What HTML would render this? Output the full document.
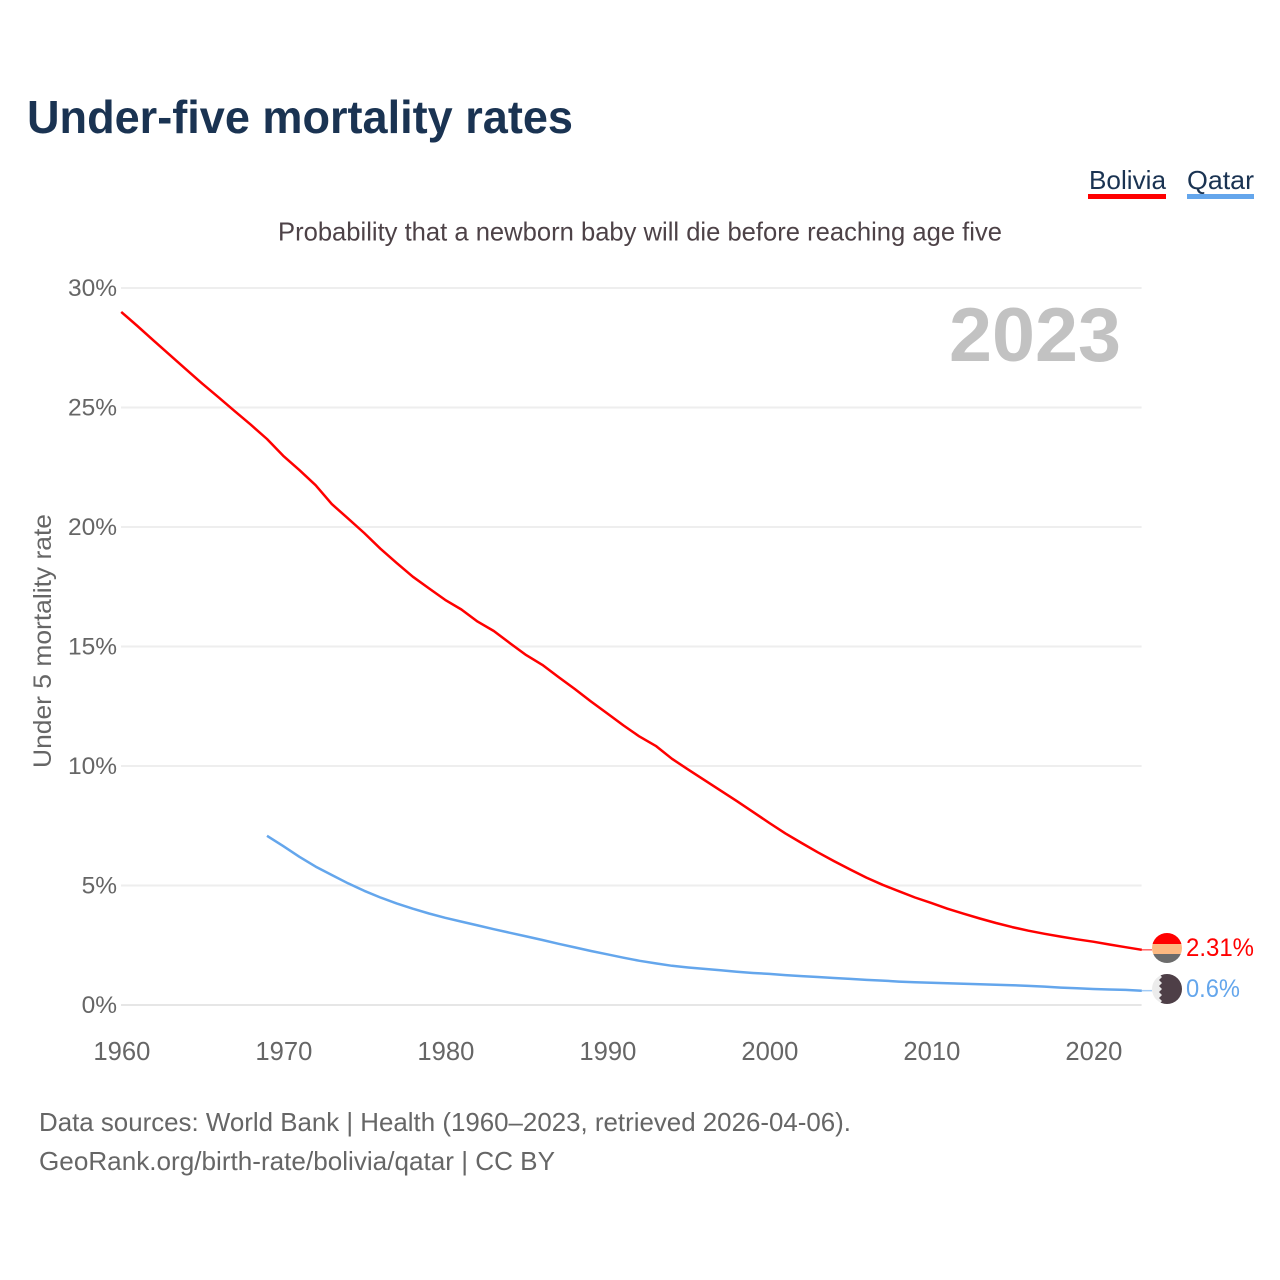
<!DOCTYPE html>
<html lang="en">
<head>
<meta charset="utf-8">
<title>Under-five mortality rates</title>
<style>
html,body{margin:0;padding:0;background:#fff;}
svg{display:block;font-family:"Liberation Sans",sans-serif;}
</style>
</head>
<body>
<svg id="chart" width="1280" height="1280" viewBox="0 0 1280 1280">
  <defs>
    <clipPath id="clip-bo"><circle cx="1167" cy="948" r="15"/></clipPath>
    <clipPath id="clip-qa"><circle cx="1167" cy="989" r="15"/></clipPath>
  </defs>
  <rect width="1280" height="1280" fill="#fff"/>
  <text x="27" y="133" font-size="46" font-weight="700" fill="#1a3352" textLength="546" lengthAdjust="spacingAndGlyphs">Under-five mortality rates</text>

  <g>
    <text x="1089" y="189" font-size="26" fill="#1a3352" textLength="77" lengthAdjust="spacingAndGlyphs">Bolivia</text>
    <rect x="1088" y="194" width="78" height="5" fill="#ff0000"/>
  </g>
  <g>
    <text x="1187" y="189" font-size="26" fill="#1a3352" textLength="67" lengthAdjust="spacingAndGlyphs">Qatar</text>
    <rect x="1187" y="194" width="67" height="5" fill="#64a6ec"/>
  </g>

  <text x="278" y="240.5" font-size="26" fill="#4d4247" textLength="724" lengthAdjust="spacingAndGlyphs">Probability that a newborn baby will die before reaching age five</text>

  <g id="grid"></g>
  <g id="yticks"></g>
  <g id="xticks"></g>

  <text transform="translate(51,768) rotate(-90)" font-size="25" fill="#666" textLength="254" lengthAdjust="spacingAndGlyphs">Under 5 mortality rate</text>

  <text x="949" y="361" font-size="76" font-weight="700" fill="#c2c2c2" textLength="172" lengthAdjust="spacingAndGlyphs">2023</text>

  <g id="series"></g>

  <g clip-path="url(#clip-bo)">
    <rect x="1152" y="933" width="30" height="11" fill="#ff0000"/>
    <rect x="1152" y="944" width="30" height="10" fill="#fdb981"/>
    <rect x="1152" y="954" width="30" height="9" fill="#6c6c6c"/>
  </g>
  <g clip-path="url(#clip-qa)">
    <rect x="1152" y="974" width="30" height="30" fill="#ececec"/>
    <polygon points="1182,974 1159,974 1162,977 1159,980 1162,983 1159,986 1162,989 1159,992 1162,995 1159,998 1162,1001 1159,1004 1182,1004" fill="#4e3f47"/>
  </g>

  <text x="1186" y="956" font-size="25" fill="#ff0000" textLength="68" lengthAdjust="spacingAndGlyphs">2.31%</text>
  <text x="1186" y="997" font-size="25" fill="#64a6ec" textLength="54" lengthAdjust="spacingAndGlyphs">0.6%</text>

  <text x="39" y="1131" font-size="26" fill="#666" textLength="812" lengthAdjust="spacingAndGlyphs">Data sources: World Bank | Health (1960–2023, retrieved 2026-04-06).</text>
  <text x="39" y="1170" font-size="26" fill="#666" textLength="516" lengthAdjust="spacingAndGlyphs">GeoRank.org/birth-rate/bolivia/qatar | CC BY</text>
</svg>
<script>
const xTickYears = [1960, 1970, 1980, 1990, 2000, 2010, 2020];
const yTickValues = [0, 5, 10, 15, 20, 25, 30];
const boliviaStartYear = 1960;
const boliviaValues = [29.0,28.41,27.8,27.2,26.6,26.0,25.43,24.85,24.28,23.68,22.98,22.38,21.75,20.96,20.36,19.75,19.09,18.5,17.92,17.43,16.95,16.55,16.04,15.65,15.14,14.64,14.23,13.72,13.22,12.7,12.2,11.7,11.23,10.84,10.3,9.85,9.41,8.97,8.53,8.08,7.62,7.18,6.78,6.39,6.02,5.67,5.33,5.03,4.76,4.5,4.27,4.03,3.82,3.62,3.43,3.26,3.11,2.98,2.86,2.75,2.65,2.53,2.42,2.31];
const qatarStartYear = 1969;
const qatarValues = [7.08,6.65,6.2,5.79,5.44,5.09,4.78,4.5,4.25,4.03,3.83,3.65,3.49,3.33,3.17,3.02,2.87,2.72,2.56,2.41,2.26,2.12,1.98,1.85,1.74,1.64,1.57,1.51,1.45,1.39,1.34,1.3,1.25,1.21,1.17,1.13,1.09,1.05,1.02,0.98,0.95,0.93,0.91,0.89,0.87,0.85,0.83,0.8,0.77,0.73,0.7,0.67,0.65,0.63,0.6];

const NS = 'http://www.w3.org/2000/svg';
const xScale = function (year) { return 121.2 + (year - 1960) * 16.2; };
const yScale = function (value) { return 1005 - value * 23.9; };

const grid = document.getElementById('grid');
const yticks = document.getElementById('yticks');
const xticks = document.getElementById('xticks');
const series = document.getElementById('series');

yTickValues.forEach(function (v) {
  const line = document.createElementNS(NS, 'line');
  line.setAttribute('x1', 121);
  line.setAttribute('x2', 1141.6);
  line.setAttribute('y1', yScale(v));
  line.setAttribute('y2', yScale(v));
  line.setAttribute('stroke', v === 0 ? '#e6e6e6' : '#eeeeee');
  line.setAttribute('stroke-width', 2);
  
  
  grid.appendChild(line);

  const label = document.createElementNS(NS, 'text');
  label.setAttribute('x', 117);
  label.setAttribute('y', yScale(v) + 8);
  label.setAttribute('text-anchor', 'end');
  label.setAttribute('font-size', 24.5);
  label.setAttribute('fill', '#666');
  label.textContent = v + '%';
  
  
  yticks.appendChild(label);
});

xTickYears.forEach(function (year) {
  const label = document.createElementNS(NS, 'text');
  label.setAttribute('x', xScale(year) + 0.7);
  label.setAttribute('y', 1060);
  label.setAttribute('text-anchor', 'middle');
  label.setAttribute('font-size', 25.6);
  label.setAttribute('fill', '#666');
  label.textContent = year;
  
  
  xticks.appendChild(label);
});

function drawSeries(values, startYear, color, name) {
  const pts = values.map(function (v, i) {
    return xScale(startYear + i).toFixed(1) + ',' + yScale(v).toFixed(1);
  });
  const path = document.createElementNS(NS, 'polyline');
  path.setAttribute('points', pts.join(' '));
  path.setAttribute('fill', 'none');
  path.setAttribute('stroke', color);
  path.setAttribute('stroke-width', 2.5);
  path.setAttribute('stroke-linejoin', 'round');
  
  
  series.appendChild(path);

  const lastY = yScale(values[values.length - 1]);
  const connector = document.createElementNS(NS, 'line');
  connector.setAttribute('x1', xScale(startYear + values.length - 1));
  connector.setAttribute('x2', 1152);
  connector.setAttribute('y1', lastY);
  connector.setAttribute('y2', lastY);
  connector.setAttribute('stroke', color);
  connector.setAttribute('stroke-width', 1.5);
  connector.setAttribute('stroke-opacity', 0.6);
  
  
  series.appendChild(connector);
}

drawSeries(boliviaValues, boliviaStartYear, '#ff0000', 'line-bolivia');
drawSeries(qatarValues, qatarStartYear, '#64a6ec', 'line-qatar');
</script>
</body>
</html>
